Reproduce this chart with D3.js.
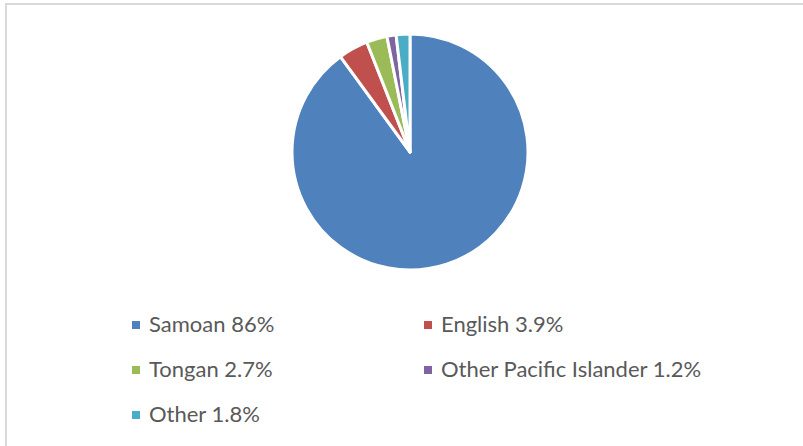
<!DOCTYPE html>
<html>
<head>
<meta charset="utf-8">
<script src="https://cdn.jsdelivr.net/npm/d3@7"></script>
<style>
  html, body { margin: 0; padding: 0; background: #fff; }
  svg { display: block; }
</style>
</head>
<body>
<svg id="drawing_region"></svg>
<script>
// language shares (percent)
const languages = ["Samoan", "English", "Tongan", "Other Pacific Islander", "Other"];
const shares = [86, 3.9, 2.7, 1.2, 1.8];
const shareLabels = ["86%", "3.9%", "2.7%", "1.2%", "1.8%"];
const colors = ["#4F81BD", "#C0504D", "#9BBB59", "#8064A2", "#4BACC6"];

const width = 803, height = 446;

const svg = d3.select("#drawing_region")
    .attr("width", width)
    .attr("height", height);

// chart frame (only top + left visible, rest is cropped)
svg.append("rect")
    .attr("x", 6)
    .attr("y", 4)
    .attr("width", width + 10)
    .attr("height", height + 10)
    .attr("fill", "#fff")
    .attr("stroke", "#d9d9d9")
    .attr("stroke-width", 2);

const data = languages.map((d, i) => ({ name: d, value: shares[i], label: shareLabels[i], color: colors[i] }));

const pie = d3.pie()
    .sort(null)
    .value(d => d.value);

const radius = 118;
const arc = d3.arc()
    .innerRadius(0)
    .outerRadius(radius);

const chart = svg.append("g")
    .attr("transform", `translate(410, 152)`);

chart.selectAll("path")
    .data(pie(data))
    .join("path")
    .attr("d", arc)
    .attr("fill", d => d.data.color)
    .attr("stroke", "#fff")
    .attr("stroke-width", 3)
    .attr("stroke-linejoin", "round");

// legend, two columns
const colX = d3.scaleOrdinal().domain([0, 1]).range([132, 424]);
const rowY = d3.scaleLinear().domain([0, 1]).range([325, 370]);

const legend = svg.append("g");
const items = legend.selectAll("g")
    .data(data)
    .join("g")
    .attr("transform", (d, i) => `translate(${colX(i % 2)}, ${rowY(Math.floor(i / 2))})`);

items.append("rect")
    .attr("x", 0)
    .attr("y", -4)
    .attr("width", 8)
    .attr("height", 8)
    .attr("fill", d => d.color);

items.append("text")
    .attr("x", 17)
    .attr("y", 7)
    .attr("font-family", "Lato, 'Open Sans', sans-serif")
    .attr("font-size", "22px")
    .attr("fill", "#595959")
    .text(d => `${d.name} ${d.label}`);
</script>
</body>
</html>
